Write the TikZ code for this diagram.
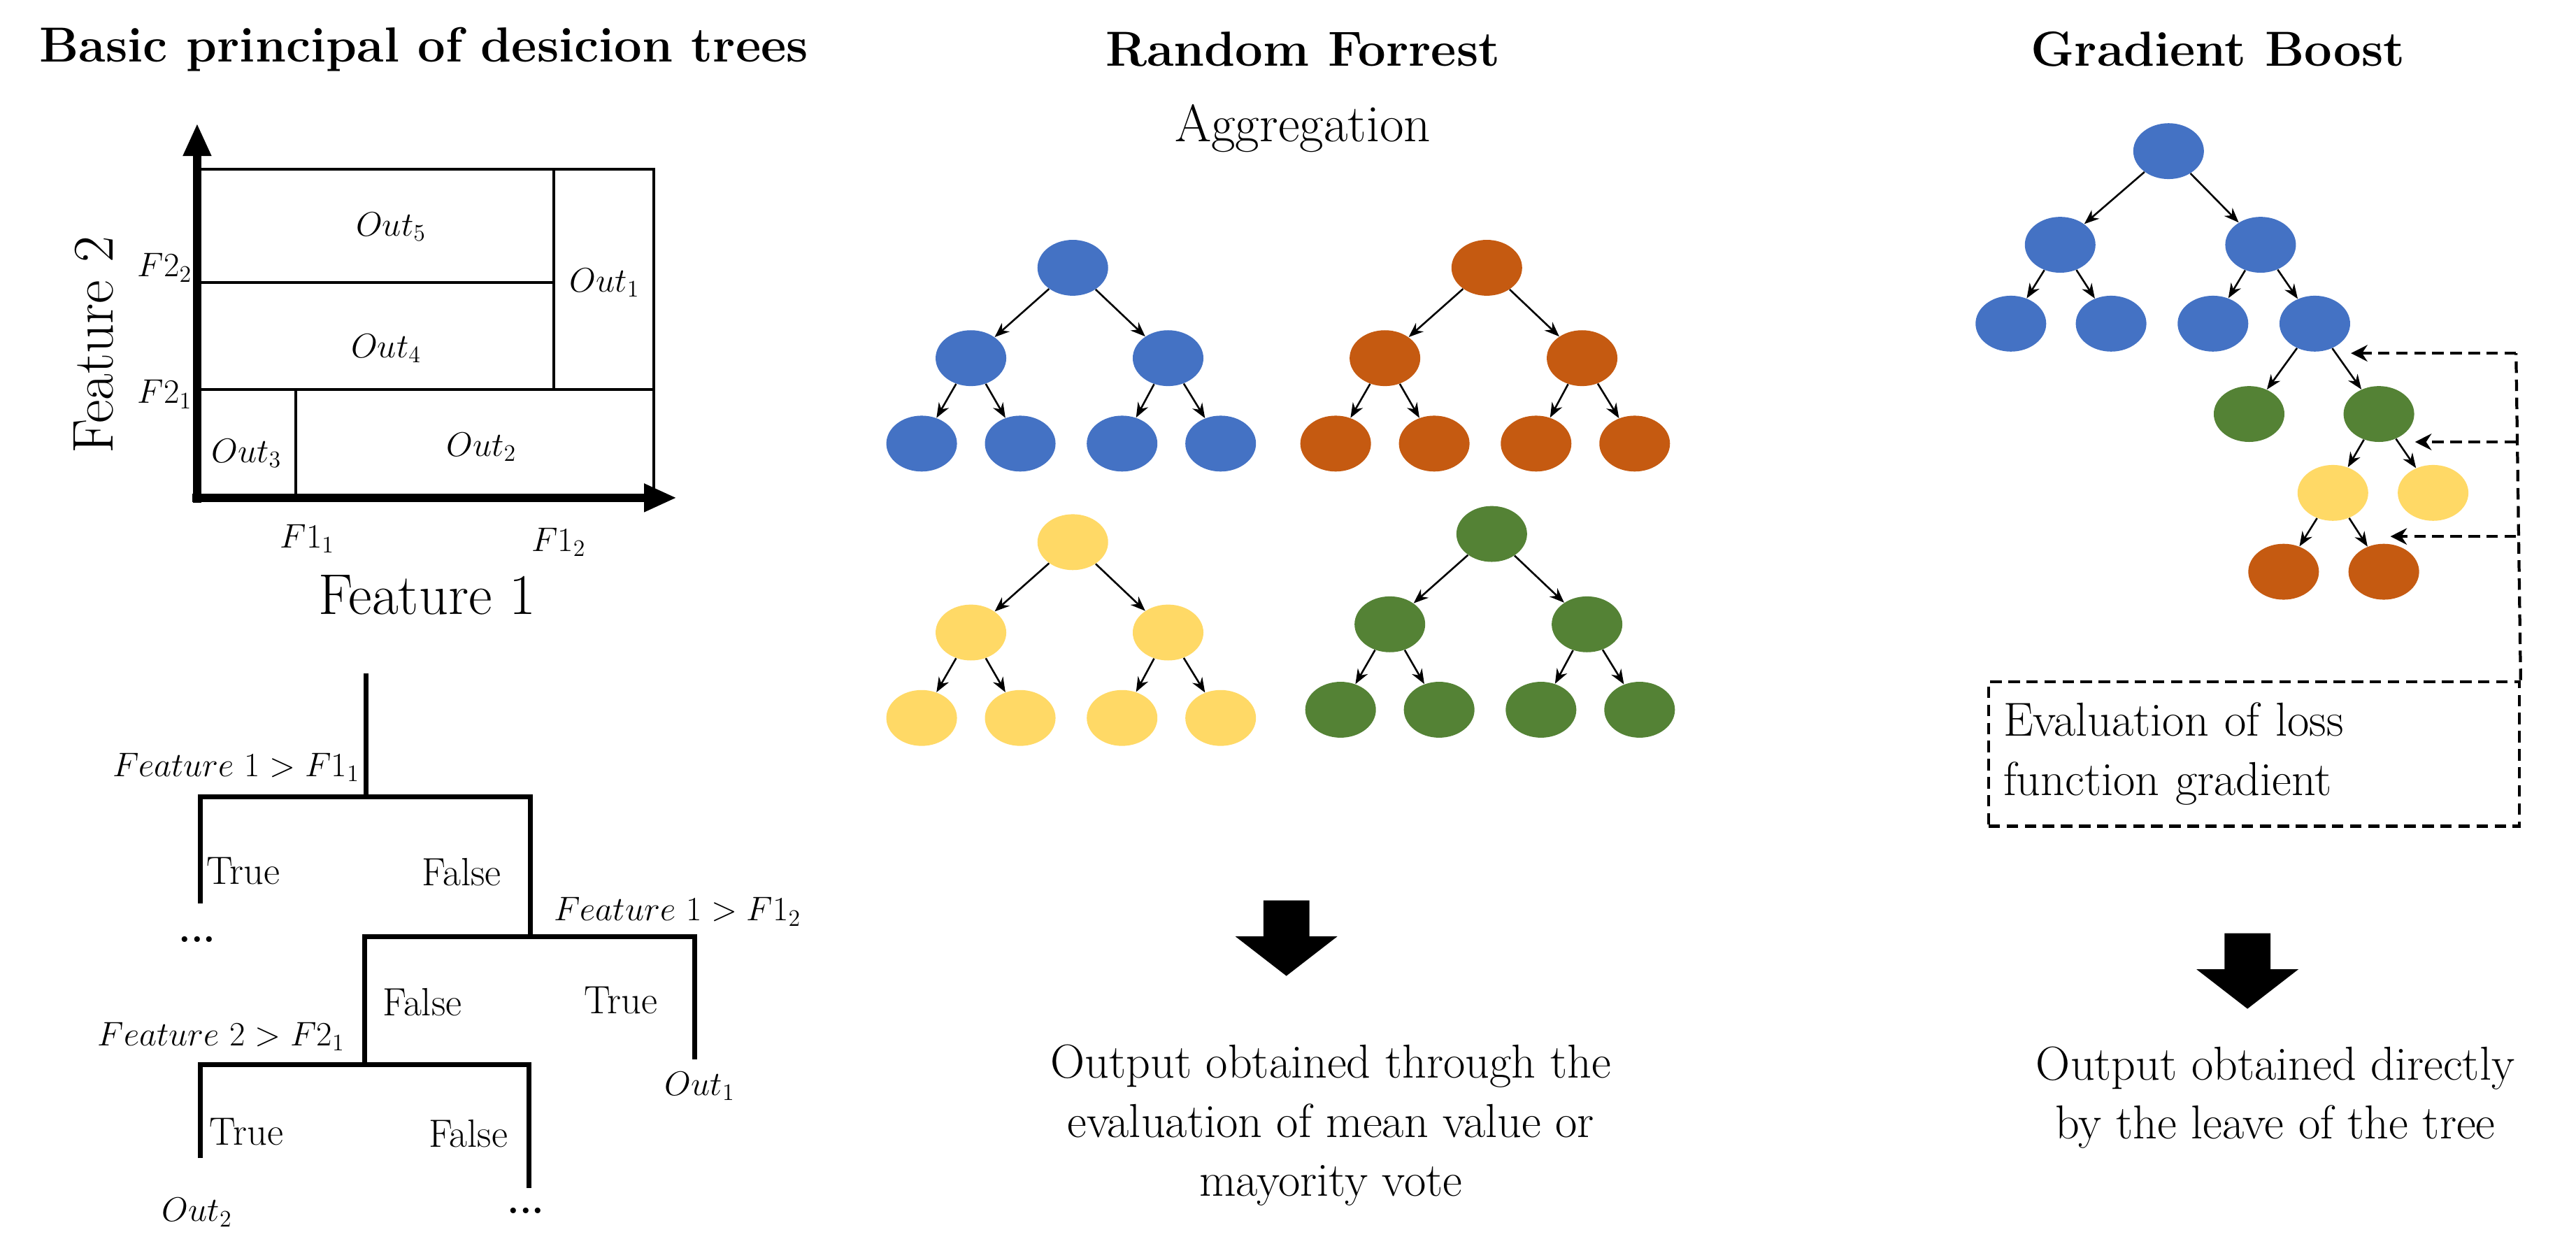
\documentclass[tikz,border=0pt]{standalone}
\usetikzlibrary{arrows.meta,shapes.geometric}
\definecolor{cblue}{HTML}{4472C4}
\definecolor{corange}{HTML}{C55A11}
\definecolor{cyellow}{HTML}{FFD966}
\definecolor{cgreen}{HTML}{548235}
\begin{document}
\begin{tikzpicture}[x=1pt,y=-1pt,
  el/.style={ellipse,minimum width=43pt,minimum height=34pt,inner sep=0pt},
  ar/.style={-{Stealth[length=9pt,width=7pt]},line width=1.1pt},
  tl/.style={line width=3pt},
  title/.style={font=\fontsize{30}{34}\selectfont\bfseries},
  txt/.style={font=\fontsize{29}{36}\selectfont},
  sm/.style={font=\fontsize{21}{24}\selectfont},
  tf/.style={font=\fontsize{24}{26}\selectfont},
  da/.style={line width=1.8pt,dash pattern=on 7pt off 4pt},
  blk/.style={fill=black,draw=none}]
\useasboundingbox (0,0) rectangle (1568,757);
% ---------- left panel ----------
\node[title] (t1) at (258,30) {Basic principal of desicion trees};
\coordinate (ytip) at (120,75);
\coordinate (xtip) at (412,303);
\draw[line width=1.8pt] (120,103) rectangle (398,303);
\draw[line width=1.8pt] (120,172) -- (337,172);
\draw[line width=1.8pt] (337,103) -- (337,237);
\draw[line width=1.8pt] (120,237) -- (398,237);
\draw[line width=1.8pt] (180,237) -- (180,303);
\draw[line width=5pt,-{Triangle[length=20pt,width=16pt]}] (120,306) -- (ytip);
\draw[line width=5pt,-{Triangle[length=20pt,width=16pt]}] (117,303) -- (xtip);
\node[sm] (o5) at (238,138) {$Out_5$};
\node[sm] (o1) at (368,172) {$Out_1$};
\node[sm] (o4) at (235,212) {$Out_4$};
\node[sm] (o3) at (150,276) {$Out_3$};
\node[sm] (o2) at (293,272) {$Out_2$};
\node[sm,anchor=east,inner sep=0pt] (f22) at (117,163) {$F2_2$};
\node[sm,anchor=east,inner sep=0pt] (f21) at (117,240) {$F2_1$};
\node[sm] (f11) at (187,328) {$F1_1$};
\node[sm] (f12) at (340,330) {$F1_2$};
\node[font=\fontsize{35}{38}\selectfont] (fx) at (260,362) {Feature 1};
\node[font=\fontsize{35}{38}\selectfont,rotate=90] (fy) at (57,210) {Feature 2};
% decision tree
\draw[tl] (223,410) -- (223,485);
\draw[tl] (122,550) -- (122,485) -- (323,485) -- (323,571);
\draw[tl] (222,648) -- (222,570) -- (423,570) -- (423,645);
\draw[tl] (122,705) -- (122,648) -- (322,648) -- (322,723);
\node[sm,anchor=east,inner sep=0pt] (c1) at (219,467) {$Feature\ 1 > F1_1$};
\node[sm,anchor=west,inner sep=0pt] (c2) at (337,555) {$Feature\ 1 > F1_2$};
\node[sm,anchor=east,inner sep=0pt] (c3) at (210,631) {$Feature\ 2 > F2_1$};
\node[tf] (tr1) at (148,530) {True};
\node[tf] (fa1) at (281,531) {False};
\node[tf] (fa2) at (257,610) {False};
\node[tf] (tr2) at (378,609) {True};
\node[tf] (tr3) at (150,689) {True};
\node[tf] (fa3) at (285,690) {False};
\node[font=\fontsize{24}{26}\selectfont\bfseries] (d1) at (120,572) {...};
\node[font=\fontsize{24}{26}\selectfont\bfseries] (d2) at (320,737) {...};
\node[sm] (ou1) at (426,661) {$Out_1$};
\node[sm] (ou2) at (120,738) {$Out_2$};
% ---------- middle panel ----------
\node[title] (t2) at (793,30) {Random Forrest};
\node[font=\fontsize{32}{36}\selectfont] (agg) at (793,78) {Aggregation};
\newcommand{\rftree}[4]{%
  \node[el,fill=#4] (#1r) at (#2,#3) {};
  \node[el,fill=#4] (#1a) at (#2-62,#3+55) {};
  \node[el,fill=#4] (#1b) at (#2+58,#3+55) {};
  \node[el,fill=#4] (#1c) at (#2-92,#3+107) {};
  \node[el,fill=#4] (#1d) at (#2-32,#3+107) {};
  \node[el,fill=#4] (#1e) at (#2+30,#3+107) {};
  \node[el,fill=#4] (#1f) at (#2+90,#3+107) {};
  \draw[ar] (#1r) -- (#1a); \draw[ar] (#1r) -- (#1b);
  \draw[ar] (#1a) -- (#1c); \draw[ar] (#1a) -- (#1d);
  \draw[ar] (#1b) -- (#1e); \draw[ar] (#1b) -- (#1f);}
\rftree{B}{653}{163}{cblue}
\rftree{O}{905}{163}{corange}
\rftree{Y}{653}{330}{cyellow}
\rftree{G}{908}{325}{cgreen}
\fill[blk] (769,548) -- (797,548) -- (797,570) -- (814,570) -- (783,594) -- (752,570) -- (769,570) -- cycle;
\node[txt,align=center] (out1) at (810,685) {Output obtained through the\\evaluation of mean value or\\mayority vote};
% ---------- right panel ----------
\node[title] (t3) at (1350,30) {Gradient Boost};
\node[el,fill=cblue] (g0) at (1320,92) {};
\node[el,fill=cblue] (g1) at (1254,149) {};
\node[el,fill=cblue] (g2) at (1376,149) {};
\node[el,fill=cblue] (g3) at (1224,197) {};
\node[el,fill=cblue] (g4) at (1285,197) {};
\node[el,fill=cblue] (g5) at (1347,197) {};
\node[el,fill=cblue] (g6) at (1409,197) {};
\node[el,fill=cgreen] (g7) at (1369,252) {};
\node[el,fill=cgreen] (g8) at (1448,252) {};
\node[el,fill=cyellow] (g9) at (1420,300) {};
\node[el,fill=cyellow] (g10) at (1481,300) {};
\node[el,fill=corange] (g11) at (1390,348) {};
\node[el,fill=corange] (g12) at (1451,348) {};
\foreach \a/\b in {g0/g1,g0/g2,g1/g3,g1/g4,g2/g5,g2/g6,g6/g7,g6/g8,g8/g9,g8/g10,g9/g11,g9/g12}
  \draw[ar] (\a) -- (\b);
\node[txt,align=left,anchor=north west,draw,da,inner sep=0pt,minimum width=323pt,minimum height=88pt,text width=305pt,inner xsep=9pt] (box) at (1209.5,414) {Evaluation of loss\\function gradient};
\coordinate (p1) at (1531.5,215);
\coordinate (p2) at (1531.5,269);
\coordinate (p3) at (1531.5,326.5);
\coordinate (q1) at (1431,215);
\coordinate (q2) at (1470,269);
\coordinate (q3) at (1455,326.5);
\draw[da] (box.north east) -- (p1);
\draw[da,-{Stealth[length=10pt,width=10pt]}] (p1) -- (q1);
\draw[da,-{Stealth[length=10pt,width=10pt]}] (p2) -- (q2);
\draw[da,-{Stealth[length=10pt,width=10pt]}] (p3) -- (q3);
\fill[blk] (1354,568) -- (1382,568) -- (1382,590) -- (1399,590) -- (1368,614) -- (1337,590) -- (1354,590) -- cycle;
\node[txt,align=center] (out2) at (1385,668) {Output obtained directly\\by the leave of the tree};
\end{tikzpicture}
\end{document}
